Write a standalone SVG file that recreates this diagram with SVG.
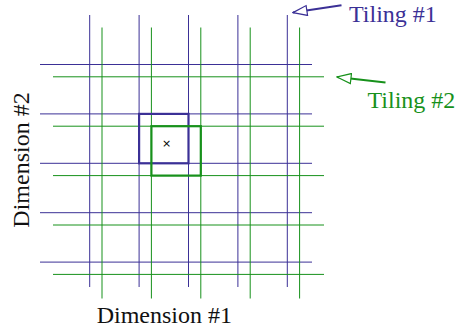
<svg xmlns="http://www.w3.org/2000/svg" width="459" height="329" viewBox="0 0 459 329">
<style>
.b{stroke:#3b3096;stroke-width:1;fill:none}
.g{stroke:#17911b;stroke-width:1;fill:none}
.bb{stroke:#3b3096;stroke-width:2.2;fill:none}
.gb{stroke:#17911b;stroke-width:2.2;fill:none}
text{font-family:"Liberation Serif","Times New Roman",serif;font-size:24px}
</style>
<defs>
<marker id="ab" viewBox="0 0 16 12" refX="15" refY="6" markerWidth="8" markerHeight="6" orient="auto" markerUnits="strokeWidth">
<path d="M15,6 L1,1 L1,11 Z" fill="#fff" stroke="#3b3096" stroke-width="1.2"/>
</marker>
<marker id="ag" viewBox="0 0 16 12" refX="15" refY="6" markerWidth="8" markerHeight="6" orient="auto" markerUnits="strokeWidth">
<path d="M15,6 L1,1 L1,11 Z" fill="#fff" stroke="#17911b" stroke-width="1.2"/>
</marker>
</defs>
<rect width="459" height="329" fill="#fff"/>
<g id="tiling1">
<path class="b" d="M89.7,15V287M139.1,15V287M188.5,15V287M237.9,15V287M287.3,15V287"/>
<path class="b" d="M40,64.5H312M40,113.9H312M40,163.3H312M40,212.7H312M40,262.1H312"/>
</g>
<g id="tiling2">
<path class="g" d="M102,27.5V298.5M151.4,27.5V298.5M200.8,27.5V298.5M250.2,27.5V298.5M299.6,27.5V298.5"/>
<path class="g" d="M53,76.8H324M53,126.2H324M53,175.6H324M53,225H324M53,274.4H324"/>
</g>
<g id="tile1">
<rect class="bb" x="139.1" y="113.9" width="49.4" height="49.4"/>
</g>
<g id="tile2">
<rect class="gb" x="151.4" y="126.2" width="49.4" height="49.4"/>
</g>
<g id="point">
<text x="166.7" y="146.5" text-anchor="middle" style="font-family:'DejaVu Sans',sans-serif;font-size:11px">×</text>
</g>
<g id="connectors">
<line x1="341.5" y1="5.3" x2="293" y2="12.6" stroke="#3b3096" stroke-width="2" marker-end="url(#ab)"/>
<line x1="385.5" y1="82.5" x2="337" y2="77" stroke="#17911b" stroke-width="2" marker-end="url(#ag)"/>
</g>
<g id="labels">
<text x="349" y="22" fill="#3b3096">Tiling #1</text>
<text x="367.5" y="107.5" fill="#17911b">Tiling #2</text>
<text x="164.3" y="323.3" text-anchor="middle" fill="#111">Dimension #1</text>
<text transform="translate(29,160) rotate(-90)" text-anchor="middle" fill="#111">Dimension #2</text>
</g>
</svg>
